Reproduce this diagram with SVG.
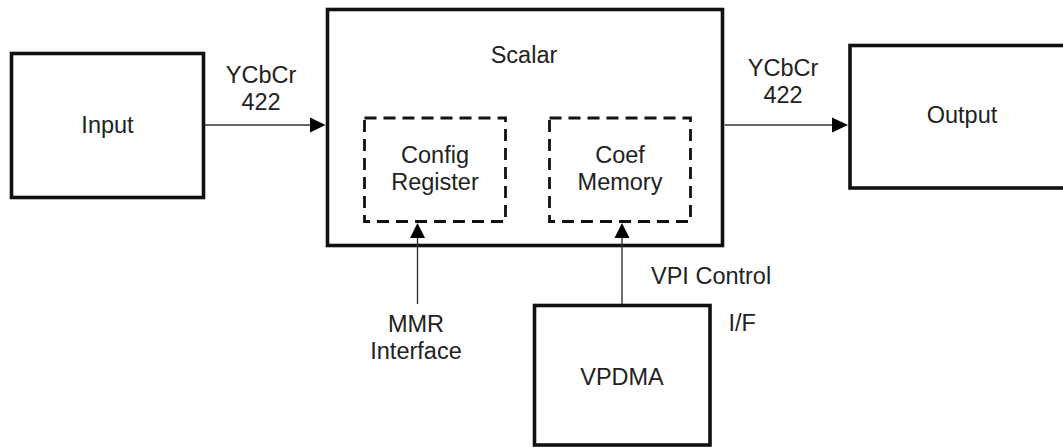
<svg xmlns="http://www.w3.org/2000/svg" width="1063" height="448" viewBox="0 0 1063 448">
<style>
.box{fill:#fff;stroke:#111;stroke-width:3.6}
.dash{fill:none;stroke:#111;stroke-width:2.8;stroke-dasharray:12 7}
.wire{stroke:#333;stroke-width:1.4;fill:none}
.head{fill:#000}
text{font-family:"Liberation Sans",Arial,sans-serif;font-size:23.5px;fill:#222;text-anchor:middle}
</style>
<rect width="1063" height="448" fill="#fff"/>
<g id="input">
<rect class="box" x="11.5" y="53.5" width="192" height="144"/>
<text x="107.5" y="133">Input</text>
</g>
<g id="scalar">
<rect class="box" x="327.5" y="9.5" width="395" height="236"/>
<text x="524" y="63">Scalar</text>
</g>
<g id="config">
<rect class="dash" x="364.5" y="118" width="141" height="103.5"/>
<text x="435" y="163">Config</text>
<text x="435" y="190">Register</text>
</g>
<g id="coef">
<rect class="dash" x="549.5" y="118" width="141" height="103.5"/>
<text x="620" y="163">Coef</text>
<text x="620" y="190">Memory</text>
</g>
<g id="output">
<rect class="box" x="850" y="45.5" width="240" height="142.5"/>
<text x="962" y="123">Output</text>
</g>
<g id="vpdma">
<rect class="box" x="534.5" y="305.5" width="175.5" height="139.5"/>
<text x="622" y="385">VPDMA</text>
</g>
<g id="connectors">
<line class="wire" x1="205" y1="125" x2="312" y2="125"/>
<polygon class="head" points="310,117.5 325.5,125 310,132.5"/>
<line class="wire" x1="724.5" y1="125" x2="834" y2="125"/>
<polygon class="head" points="832,117.5 848,125 832,132.5"/>
<line class="wire" x1="417.5" y1="304" x2="417.5" y2="236"/>
<polygon class="head" points="410,238 417.5,223 425,238"/>
<line class="wire" x1="622" y1="304" x2="622" y2="236"/>
<polygon class="head" points="614.5,238 622,223 629.5,238"/>
<text x="261" y="83">YCbCr</text>
<text x="261" y="110">422</text>
<text x="783" y="76">YCbCr</text>
<text x="783" y="103">422</text>
<text x="416" y="332">MMR</text>
<text x="416" y="358.5">Interface</text>
<text x="651" y="284" style="text-anchor:start">VPI Control</text>
<text x="728.5" y="331" style="text-anchor:start">I/F</text>
</g>
</svg>
